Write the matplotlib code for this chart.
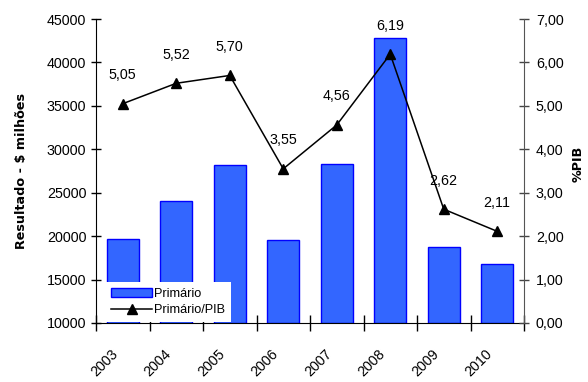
import matplotlib
matplotlib.use("Agg")
import matplotlib.pyplot as plt
from matplotlib.ticker import FixedLocator, FuncFormatter
from matplotlib.transforms import ScaledTranslation
import numpy as np

plt.rcParams['font.family'] = ['Liberation Sans', 'DejaVu Sans']

years = ['2003', '2004', '2005', '2006', '2007', '2008', '2009', '2010']
primario = [19700, 24100, 28200, 19500, 28300, 42800, 18800, 16800]
primario_pib = [5.05, 5.52, 5.70, 3.55, 4.56, 6.19, 2.62, 2.11]

fig = plt.figure(figsize=(5.88, 3.82), dpi=100)
ax = fig.add_axes([96/588, 1 - 323/382, (524 - 96)/588, (323 - 19)/382])
x = np.arange(len(years))

bars = ax.bar(x, np.array(primario) - 10000, bottom=10000, width=0.6,
              color='#3366FF', edgecolor='#0000FF', linewidth=1.0,
              label='Primário', zorder=2)
ax.set_xlim(-0.5, len(years) - 0.5)
ax.set_ylim(10000, 45000)
ax.set_yticks(np.arange(10000, 45001, 5000))
ax.tick_params(axis='y', direction='inout', length=7, width=1, labelsize=10.3)
ax.set_xticks(x)
ax.set_xticklabels(years, rotation=45, ha='right', va='center',
                   rotation_mode='anchor', fontsize=10.3)
ax.tick_params(axis='x', which='major', length=0, pad=21)
shift = ScaledTranslation(-7/100, 0, fig.dpi_scale_trans)
for lbl in ax.get_xticklabels():
    lbl.set_transform(lbl.get_transform() + shift)
ax.xaxis.set_minor_locator(FixedLocator(np.arange(-0.5, len(years), 1.0)))
ax.tick_params(axis='x', which='minor', direction='inout', length=11, width=1)
ax.spines['top'].set_visible(False)
ax.spines['right'].set_visible(False)
ax.set_ylabel('Resultado - $ milhões', fontsize=9.2, fontweight='bold',
              family='DejaVu Sans')
ax.yaxis.set_label_coords(-0.158, 0.5)

ax2 = ax.twinx()
line, = ax2.plot(x, primario_pib, color='black', linewidth=1.1, marker='^',
                 markersize=7, label='Primário/PIB', zorder=3)
ax2.set_ylim(0, 7)
ax2.set_yticks(np.arange(0, 7.01, 1))
ax2.yaxis.set_major_formatter(FuncFormatter(lambda v, p: f'{v:.2f}'.replace('.', ',')))
ax2.tick_params(axis='y', direction='inout', length=7, width=1, labelsize=10.3,
                color='#444444', pad=5)
ax2.spines['right'].set_color('#555555')
ax2.spines['top'].set_visible(False)
ax2.spines['left'].set_visible(False)
ax2.spines['bottom'].set_visible(False)
ax2.set_ylabel('%PIB', fontsize=9.2, fontweight='bold', family='DejaVu Sans')
ax2.yaxis.set_label_coords(1.112, 0.523)

for xi, v in zip(x, primario_pib):
    ax2.annotate(f'{v:.2f}'.replace('.', ','), (xi, v), xytext=(0, 20.5),
                 textcoords='offset points', ha='center', va='center',
                 fontsize=10.3)

leg = ax2.legend([bars, line], ['Primário', 'Primário/PIB'], loc='lower left',
                 bbox_to_anchor=(0.022, 0.003), frameon=True, fancybox=False,
                 edgecolor='none', facecolor='white', framealpha=1,
                 fontsize=9.2, handlelength=3.2, borderpad=0.45,
                 labelspacing=0.35, handletextpad=0.15, borderaxespad=0)

fig.savefig('out.png', dpi=100)
